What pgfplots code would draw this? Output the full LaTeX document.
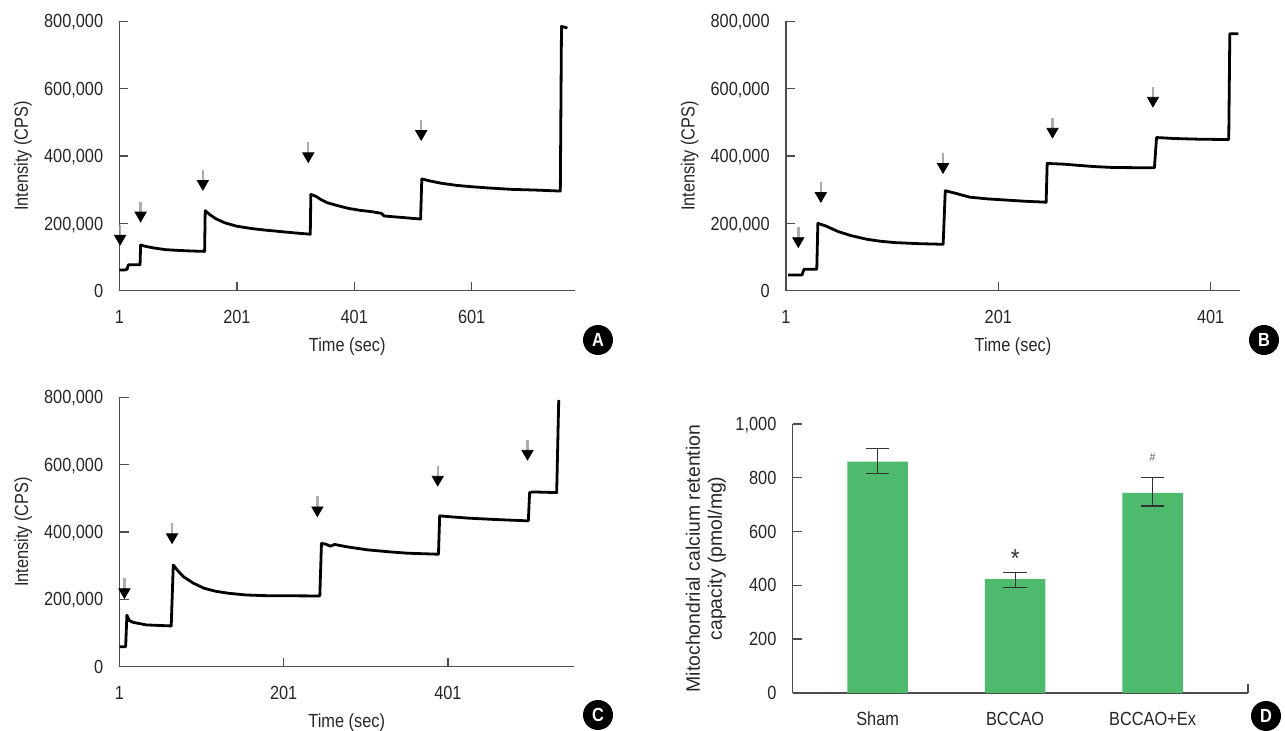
\documentclass[border=0pt]{standalone}
\usepackage{fontspec}
\setmainfont{Liberation Sans}[FakeStretch=0.86]
\newfontfamily\regfont{Liberation Sans}
\usepackage{pgfplots}
\pgfplotsset{compat=1.18}
\definecolor{dgreen}{RGB}{78,186,110}
\definecolor{axgray}{RGB}{77,77,79}
\tikzset{letter/.style={circle, fill=black, text=white, inner sep=0pt, minimum size=15pt, font=\bfseries\fontsize{9.5}{10}\selectfont}}
\pgfplotsset{
  panel/.style={
    scale only axis,
    anchor=south west,
    axis lines*=left,
    axis line style={axgray, line width=0.7pt, -},
    tick align=inside,
    major tick length=4.5pt,
    minor tick length=4.5pt,
    tick style={axgray, line width=0.7pt},
    ticklabel style={text=black!85},
    xticklabel style={anchor=base, yshift=-16.4pt},
    yticklabel style={anchor=base east, xshift=-4.8pt, yshift=-3.3pt},
    /pgf/number format/fixed,
    /pgf/number format/precision=0,
    /pgf/number format/1000 sep={,},
    /pgf/number format/assume math mode=true,
    scaled y ticks=false,
    scaled x ticks=false,
    label style={text=black!85},
  },
  trace/.style={panel,
    ymin=0, ymax=800000, ytick={0,200000,400000,600000,800000},
    xmin=1,
    xlabel={Time (sec)},
    xlabel style={at={(axis description cs:0.5,-0.226)}, anchor=base},
    ylabel={Intensity (CPS)},
    ylabel style={at={(axis description cs:-0.2119,0.5)}, anchor=center},
  },
  curve/.style={black, line width=1.4pt, line join=round, no markers},
  shaft/.style={gray!65, line width=1.2pt, unbounded coords=jump, no markers},
  head/.style={only marks, mark=triangle*, mark size=3.2pt, mark options={rotate=180, fill=black, draw=black}},
}
\begin{document}
\fontsize{9.5}{11}\selectfont
\begin{tikzpicture}
\path[use as bounding box] (0,0) rectangle (642.5pt,365.5pt);
% ---------------- A
\begin{axis}[trace, at={(59.75pt,220.1pt)}, width=227.75pt, height=134.75pt,
  xmax=777, xtick={1,201,401,601}]
\addplot[curve] coordinates {(1,62000) (10,62000) (14,64000) (16,77000) (36,77000) (37,136000) (45,132000) (60,127000) (80,122000) (100,120000) (125,118000) (146,117000) (147,238000) (155,226000) (165,214000) (180,202000) (200,192000) (225,185000) (250,180000) (280,175000) (305,171000) (326,168000) (327,286000) (335,281000) (345,270000) (354,262000) (370,254000) (390,245000) (410,239000) (430,235000) (447,230000) (452,222000) (480,218000) (514,213000) (516,332000) (530,326000) (550,319000) (575,313000) (600,309000) (632,305000) (670,301000) (710,299000) (752,296000) (754,785000) (764,780000)};
\addplot[shaft] coordinates {(2,162000) (2,196000) (2,nan) (37,231000) (37,265000) (37,nan) (143,325000) (143,359000) (143,nan) (322.6,407000) (322.6,441000) (322.6,nan) (515,473000) (515,507000)};
\addplot[head] coordinates {(2,155000) (37,224000) (143,318000) (322.6,400000) (515,466000)};
\end{axis}
% ---------------- B
\begin{axis}[trace, at={(393pt,220.1pt)}, width=227pt, height=134.75pt,
  xmax=428.6, xtick={1,201,401}]
\addplot[curve] coordinates {(3,47000) (16,47000) (18,64000) (30,64000) (31,200000) (38,193000) (50,176000) (62,164000) (77,153000) (90,147000) (104,143000) (125,140000) (149,138000) (151,297000) (160,290000) (174,278000) (190,273000) (205,270000) (225,266000) (246,263000) (247,378000) (262,376000) (274,373000) (290,369000) (309,366000) (348,365000) (350,455000) (367,452000) (390,450000) (418,449000) (419,763000) (427,763000)};
\addplot[shaft] coordinates {(12.6,155000) (12.6,189000) (12.6,nan) (33.8,289000) (33.8,323000) (33.8,nan) (148.9,375000) (148.9,409000) (148.9,nan) (252,480000) (252,514000) (252,nan) (346.6,572000) (346.6,606000)};
\addplot[head] coordinates {(12.6,148000) (33.8,282000) (148.9,368000) (252,473000) (346.6,565000)};
\end{axis}
% ---------------- C
\begin{axis}[trace, at={(59.75pt,32.15pt)}, width=227.25pt, height=134.7pt,
  xmax=554.6, xtick={1,201,401}]
\addplot[curve] coordinates {(1,59000) (8.5,59000) (10,153000) (13,137000) (17,132000) (34,124000) (64,121000) (66.5,302000) (72,285000) (79,267000) (91,248000) (104,233000) (118,224000) (134,218000) (155,213000) (178,211000) (245,210000) (247,366000) (252,364000) (258,358000) (263,363000) (278,356000) (303,347000) (330,341000) (352,337000) (389.5,334000) (391,448000) (405,445000) (427,441000) (460,437000) (499,433000) (500.5,517000) (505,519000) (533.5,517000) (536,792000)};
\addplot[shaft] coordinates {(7,229000) (7,263000) (7,nan) (65,392000) (65,426000) (65,nan) (242,472000) (242,506000) (242,nan) (388.6,563000) (388.6,597000) (388.6,nan) (498,640000) (498,674000)};
\addplot[head] coordinates {(7,222000) (65,385000) (242,465000) (388.6,556000) (498,633000)};
\end{axis}
% ---------------- D
\begin{axis}[panel, at={(396.35pt,19pt)}, width=227.65pt, height=134.5pt,
  xmin=-0.618, xmax=2.694, ymin=0, ymax=1000, ytick={0,200,400,600,800,1000},
  xtick={0,1,2}, xticklabels={Sham,BCCAO,BCCAO+Ex},
  major x tick style={draw=none},
  minor xtick={2.694},
  ylabel={Mitochondrial calcium retention\\capacity (pmol/mg)},
  ylabel style={align=center, font=\regfont\fontsize{9.7}{11}\selectfont, at={(axis description cs:-0.191,0.5)}, anchor=center},
  ]
\addplot[ybar, bar width=0.441, fill=dgreen, draw=none,
  error bars/.cd, y dir=both, y explicit,
  error bar style={black!80, line width=0.6pt},
  error mark options={rotate=90, black!80, line width=0.6pt, mark size=5.9pt}]
  coordinates {(0,860) += (0,50) -= (0,45) (1,423) += (0,25) -= (0,30) (2,744) += (0,58) -= (0,49)};
\node[text=black!80, inner sep=0pt] at (axis cs:1,500) {\fontsize{13}{13}\selectfont *};
\node[text=black!60, inner sep=0pt] at (axis cs:2,874) {\fontsize{6}{6}\selectfont \#};
\end{axis}
\node[letter] at (299pt,195.5pt) {A};
\node[letter] at (632pt,195.5pt) {B};
\node[letter] at (299pt,8pt) {C};
\node[letter] at (633pt,7.5pt) {D};
\end{tikzpicture}
\end{document}
